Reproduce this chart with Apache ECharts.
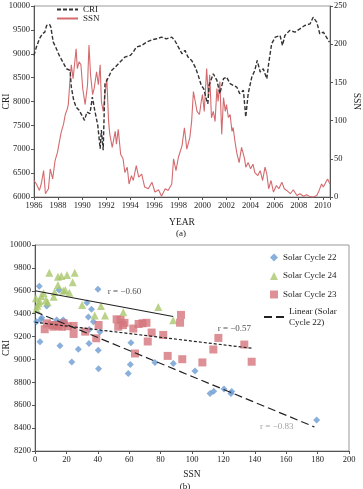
<!DOCTYPE html>
<html lang="en">
<head>
    <meta charset="UTF-8">
    <title>CRI and SSN</title>
    <script src="https://cdn.jsdelivr.net/npm/echarts@6/dist/echarts.min.js"></script>
    <style>
        html, body { margin: 0; padding: 0; background: #fff; }
    </style>
</head>
<body>
    <div id="main" style="width: 363px;height:489px;"></div>
    <script type="text/javascript">
        // (a) monthly-ish readings, year / value
        var criYears = [1986.0, 1986.2, 1986.45, 1986.7, 1986.9, 1987.05, 1987.3, 1987.4, 1987.6, 1987.8,
            1988.1, 1988.4, 1988.7, 1989.0, 1989.1, 1989.3, 1989.5, 1989.75, 1990.0, 1990.2,
            1990.4, 1990.65, 1990.85, 1991.05, 1991.3, 1991.5, 1991.6, 1991.75, 1991.9, 1992.2,
            1992.45, 1992.75, 1993.15, 1993.55, 1994.0, 1994.25, 1994.5, 1994.95, 1995.35, 1995.8,
            1996.2, 1996.6, 1997.0, 1997.45, 1997.7, 1998.0, 1998.3, 1998.55, 1998.8, 1999.1,
            1999.4, 1999.65, 1999.9, 2000.1, 2000.35, 2000.45, 2000.55, 2000.9, 2001.2, 2001.45,
            2001.75, 2002.0, 2002.3, 2002.55, 2002.85, 2003.1, 2003.4, 2003.6, 2003.8, 2004.1,
            2004.35, 2004.55, 2004.8, 2005.05, 2005.35, 2005.5, 2005.75, 2006.05, 2006.45, 2006.65,
            2006.85, 2007.25, 2007.7, 2008.1, 2008.5, 2008.95, 2009.2, 2009.5, 2009.75, 2010.05,
            2010.3, 2010.55];
        var criVals = [8965, 9140, 9313, 9418, 9453, 9592, 9613, 9557, 9244, 9140,
            8965, 8826, 8686, 8651, 8303, 8024, 7885, 7815, 7700, 7606,
            7780, 7746, 8094, 7815, 7500, 7013, 7400, 6979, 8372, 8512,
            8651, 8721, 8826, 8930, 8965, 9035, 9140, 9174, 9244, 9293,
            9313, 9348, 9313, 9348, 9278, 9140, 9000, 9070, 8930, 8860,
            8721, 8547, 8338, 8268, 8024, 7955, 8338, 8582, 8442, 8164,
            8477, 8512, 8372, 8338, 8303, 8164, 8233, 7676, 8164, 8512,
            8651, 8860, 8617, 8686, 8477, 8791, 9209, 9348, 9383, 9174,
            9383, 9487, 9453, 9522, 9592, 9627, 9766, 9662, 9418, 9453,
            9348, 9244];

        var ssnYears = [1986.0, 1986.2, 1986.45, 1986.6, 1986.8, 1986.95, 1987.2, 1987.35, 1987.55, 1987.75,
            1987.95, 1988.1, 1988.25, 1988.45, 1988.6, 1988.75, 1988.85, 1989.0, 1989.1, 1989.25,
            1989.5, 1989.6, 1989.75, 1989.9, 1990.05, 1990.25, 1990.45, 1990.57, 1990.7, 1990.87,
            1991.0, 1991.2, 1991.35, 1991.5, 1991.6, 1991.75, 1991.9, 1992.05, 1992.2, 1992.3,
            1992.5, 1992.75, 1992.85, 1993.0, 1993.2, 1993.4, 1993.55, 1993.75, 1993.9, 1994.1,
            1994.25, 1994.5, 1994.7, 1994.95, 1995.2, 1995.5, 1995.8, 1996.05, 1996.35, 1996.6,
            1996.9, 1997.15, 1997.45, 1997.6, 1997.8, 1998.0, 1998.3, 1998.5, 1998.7, 1998.95,
            1999.1, 1999.25, 1999.4, 1999.55, 1999.75, 1999.9, 2000.0, 2000.15, 2000.35, 2000.5,
            2000.6, 2000.75, 2000.9, 2001.05, 2001.2, 2001.3, 2001.45, 2001.6, 2001.75, 2001.9,
            2002.0, 2002.15, 2002.3, 2002.45, 2002.55, 2002.7, 2002.85, 2003.05, 2003.25, 2003.4,
            2003.5, 2003.6, 2003.8, 2004.0, 2004.2, 2004.35, 2004.6, 2004.8, 2005.0, 2005.2,
            2005.35, 2005.5, 2005.7, 2005.9, 2006.15, 2006.35, 2006.6, 2006.8, 2007.0, 2007.3,
            2007.55, 2007.85, 2008.1, 2008.4, 2008.65, 2008.95, 2009.2, 2009.5, 2009.7, 2009.9,
            2010.05, 2010.25, 2010.4, 2010.6];
        var ssnVals = [21.6, 17, 8.6, 17, 34.5, 4.3, 10.8, 36.7, 23.7, 47.5,
            58.3, 60.4, 84.2, 95, 108, 114.4, 121, 155, 173, 155,
            194, 168, 177, 173, 142, 121, 147, 199, 160, 134,
            142, 164, 147, 173, 125, 112, 134, 155, 99, 82,
            65, 86, 69, 88.5, 56, 50, 32, 39, 17, 28,
            21.6, 41, 26, 30, 13, 10.8, 19.4, 6.5, 9.5, 1,
            10.8, 8.6, 17, 50, 34.5, 52, 67, 90.7, 62.6, 77.7,
            99, 138, 125, 112, 108, 125, 134, 112, 168, 130,
            160, 103.6, 112, 99, 142, 125, 151, 82, 130, 112,
            121, 104, 108, 86, 91, 73, 58, 45, 65, 56,
            50, 39, 45, 37, 43, 32, 28, 34.5, 21.6, 39,
            30, 10.8, 21.6, 6.5, 15, 10.8, 19.4, 10.8, 8.6, 4.3,
            9.5, 2, 4.3, 1, 3, 0.5, 0, 2, 8.6, 17,
            13, 19.4, 23.7, 17];

        // (b) SSN vs CRI
        var cycle22 = [[1, 9330], [2.7, 9640], [3.2, 9155], [3.8, 9350], [4.3, 9365], [7.5, 9467],
            [13.8, 9345], [15.3, 9607], [15.9, 9120], [17, 9330], [18, 9345], [19, 9325],
            [23.4, 8978], [27.6, 9090], [33.1, 9496], [34, 9370], [34.4, 9140], [34.6, 9262],
            [36, 9438], [37.2, 9330], [40.1, 9613], [40.3, 9081], [40.5, 8918], [41.4, 9243],
            [59.4, 8878], [60.7, 8956], [61.1, 9145], [76.4, 8974], [88.1, 8965], [101.9, 8900],
            [111.5, 8703], [113.8, 8723], [120.4, 8741], [124.8, 8703], [125.3, 8720], [179.4, 8470]];
        var cycle24 = [[0.6, 9535], [1, 9440], [1.5, 9470], [2.3, 9490], [3, 9510], [4, 9555],
            [5.5, 9578], [7, 9520], [8, 9500], [9.1, 9758], [11.9, 9548], [12.5, 9590],
            [14.6, 9723], [14.6, 9650], [16.8, 9729], [18, 9600], [19.3, 9607], [20.4, 9738],
            [21.9, 9583], [24, 9674], [25.3, 9758], [30, 9476], [38, 9385], [42, 9467],
            [44.6, 9385], [56.2, 9412], [78.5, 9458], [88, 9342]];
        var cycle23 = [[6.2, 9264], [7.6, 9316], [10.8, 9301], [11.7, 9286], [13, 9300], [15, 9292],
            [17, 9285], [18.3, 9316], [21, 9290], [24.6, 9223], [24.6, 9293], [32, 9243],
            [39, 9185], [40.5, 9301], [52, 9351], [53, 9286], [54.5, 9345], [56, 9300],
            [57, 9320], [62.6, 9270], [63.7, 9052], [66, 9310], [68.5, 9316], [71, 9320],
            [71.8, 9157], [74.3, 9235], [81.7, 9214], [84.5, 9031], [92.4, 9321], [93, 9389],
            [93.8, 9002], [106.6, 8974], [113.6, 9087], [116.8, 9188], [133.3, 9130], [138, 8980]];
        // trend line ends
        var trend22 = [[0, 9418], [178, 8410]];
        var trend23 = [[0, 9325], [138, 9098]];
        var trend24 = [[0, 9600], [88, 9375]];
        var rLabels = [[57, 9595, 'r = \u22120.60', '#222'], [127, 9266, 'r = \u22120.57', '#222'],
            [154, 8410, 'r = \u22120.83', '#8a8a8a']];

        function pairs(xs, ys) {
            return xs.map(function (x, i) { return [x, ys[i]]; });
        }

        var serif = 'Liberation Serif';
        var tickLbl = {fontFamily: serif, fontSize: 8.5, color: '#222', margin: 4,
            formatter: function (v) { return String(v); }};
        var nameStyle = {fontFamily: serif, fontSize: 9.5, color: '#222'};
        var axLine = {show: true, lineStyle: {color: '#555', width: 1}};
        var tick = {show: true, length: 3, lineStyle: {color: '#555'}};
        var legText = {fontFamily: serif, fontSize: 9, color: '#222', lineHeight: 11};
        var noDot = {color: 'transparent', borderColor: 'transparent', borderWidth: 0};

        var myChart = echarts.init(document.getElementById('main'));

        var option = {
            backgroundColor: '#fff',
            animation: false,
            title: [
                {text: '(a)', left: 176, top: 224, textAlign: 'center',
                    textStyle: {fontFamily: serif, fontSize: 9, fontWeight: 'normal', color: '#222'}},
                {text: '(b)', left: 180, top: 477, textAlign: 'center',
                    textStyle: {fontFamily: serif, fontSize: 9, fontWeight: 'normal', color: '#222'}}
            ],
            legend: [
                {
                    data: ['CRI', 'SSN'],
                    orient: 'vertical',
                    left: 56, top: 5,
                    itemWidth: 21, itemHeight: 6, itemGap: 0,
                    padding: 0,
                    itemStyle: noDot,
                    textStyle: {fontFamily: serif, fontSize: 9, color: '#222', lineHeight: 8}
                },
                {
                    data: ['Solar Cycle 22', 'Solar Cycle 24', 'Solar Cycle 23'],
                    orient: 'vertical',
                    left: 270, top: 252,
                    itemWidth: 8, itemHeight: 8, itemGap: 7.5,
                    padding: 0,
                    textStyle: legText
                },
                {
                    data: ['Linear (Solar Cycle 22)'],
                    orient: 'vertical',
                    left: 263, top: 306,
                    itemWidth: 20, itemHeight: 8,
                    padding: 0,
                    itemStyle: noDot,
                    formatter: function () { return 'Linear (Solar\nCycle 22)'; },
                    textStyle: legText
                }
            ],
            grid: [
                {left: 34, top: 6, width: 296, height: 191, show: true, borderColor: '#999', borderWidth: 1,
                    outerBoundsMode: 'none', containLabel: false},
                {left: 35, top: 245, width: 314, height: 206, show: true, borderColor: '#999', borderWidth: 1,
                    outerBoundsMode: 'none', containLabel: false}
            ],
            xAxis: [
                {
                    gridIndex: 0, type: 'value', min: 1986, max: 2010.6, interval: 2,
                    name: 'YEAR', nameLocation: 'middle', nameGap: 20, nameTextStyle: nameStyle,
                    nameMoveOverlap: false,
                    axisLine: axLine, axisTick: tick, splitLine: {show: false},
                    axisLabel: Object.assign({}, tickLbl, {
                        formatter: function (v) { return v % 2 === 0 ? String(v) : ''; }
                    })
                },
                {
                    gridIndex: 1, type: 'value', min: 0, max: 200, interval: 20,
                    name: 'SSN', nameLocation: 'middle', nameGap: 18, nameTextStyle: nameStyle,
                    nameMoveOverlap: false,
                    axisLine: axLine, axisTick: tick, splitLine: {show: false},
                    axisLabel: tickLbl
                }
            ],
            yAxis: [
                {
                    gridIndex: 0, type: 'value', min: 6000, max: 10000, interval: 500,
                    name: 'CRI', nameLocation: 'middle', nameGap: 23, nameTextStyle: nameStyle,
                    nameMoveOverlap: false,
                    axisLine: axLine, axisTick: tick, splitLine: {show: false}, axisLabel: tickLbl
                },
                {
                    gridIndex: 0, type: 'value', position: 'right', min: 0, max: 250, interval: 50,
                    name: 'SSN', nameLocation: 'middle', nameGap: 21, nameRotate: -90, nameTextStyle: nameStyle,
                    nameMoveOverlap: false,
                    axisLine: axLine, axisTick: tick, splitLine: {show: false}, axisLabel: tickLbl
                },
                {
                    gridIndex: 1, type: 'value', min: 8200, max: 10000, interval: 200,
                    name: 'CRI', nameLocation: 'middle', nameGap: 24, nameTextStyle: nameStyle,
                    nameMoveOverlap: false,
                    axisLine: axLine, axisTick: tick, splitLine: {show: false}, axisLabel: tickLbl
                }
            ],
            series: [
                {
                    name: 'SSN', type: 'line', xAxisIndex: 0, yAxisIndex: 1,
                    data: pairs(ssnYears, ssnVals),
                    showSymbol: false, symbol: 'none',
                    lineStyle: {color: '#d46a6e', width: 1.1},
                    itemStyle: {color: '#d46a6e'}
                },
                {
                    name: 'CRI', type: 'line', xAxisIndex: 0, yAxisIndex: 0,
                    data: pairs(criYears, criVals),
                    showSymbol: false, symbol: 'none',
                    lineStyle: {color: '#333', width: 1.4, type: [4, 2]},
                    itemStyle: {color: '#333'}
                },
                {
                    name: 'Solar Cycle 22', type: 'scatter', xAxisIndex: 1, yAxisIndex: 2,
                    data: cycle22, symbol: 'diamond', symbolSize: 7,
                    itemStyle: {color: '#6b9bd2'}
                },
                {
                    name: 'Solar Cycle 24', type: 'scatter', xAxisIndex: 1, yAxisIndex: 2,
                    data: cycle24, symbol: 'triangle', symbolSize: 8,
                    itemStyle: {color: '#a9c76c'}
                },
                {
                    name: 'Solar Cycle 23', type: 'scatter', xAxisIndex: 1, yAxisIndex: 2,
                    data: cycle23, symbol: 'rect', symbolSize: 8,
                    itemStyle: {color: '#d5767c'}
                },
                {
                    name: 'trend24', type: 'line', xAxisIndex: 1, yAxisIndex: 2,
                    data: trend24, showSymbol: false, symbol: 'none', silent: true,
                    lineStyle: {color: '#222', width: 1.2}
                },
                {
                    name: 'trend23', type: 'line', xAxisIndex: 1, yAxisIndex: 2,
                    data: trend23, showSymbol: false, symbol: 'none', silent: true,
                    lineStyle: {color: '#222', width: 1.2, type: [3, 2]}
                },
                {
                    name: 'Linear (Solar Cycle 22)', type: 'line', xAxisIndex: 1, yAxisIndex: 2,
                    data: trend22, showSymbol: false, symbol: 'none', silent: true,
                    lineStyle: {color: '#222', width: 1.2, type: [8, 4]},
                    itemStyle: {color: '#222'}
                },
                {
                    name: 'rlabels', type: 'scatter', xAxisIndex: 1, yAxisIndex: 2,
                    data: rLabels.map(function (r) {
                        return {value: r, label: {color: r[3]}};
                    }),
                    symbolSize: 1, silent: true,
                    itemStyle: {color: 'transparent'},
                    label: {
                        show: true, position: 'inside',
                        fontFamily: serif, fontSize: 9,
                        formatter: function (p) { return p.value[2]; }
                    },
                    labelLayout: {hideOverlap: false}
                }
            ]
        };

        myChart.setOption(option);
    </script>
</body>
</html>
